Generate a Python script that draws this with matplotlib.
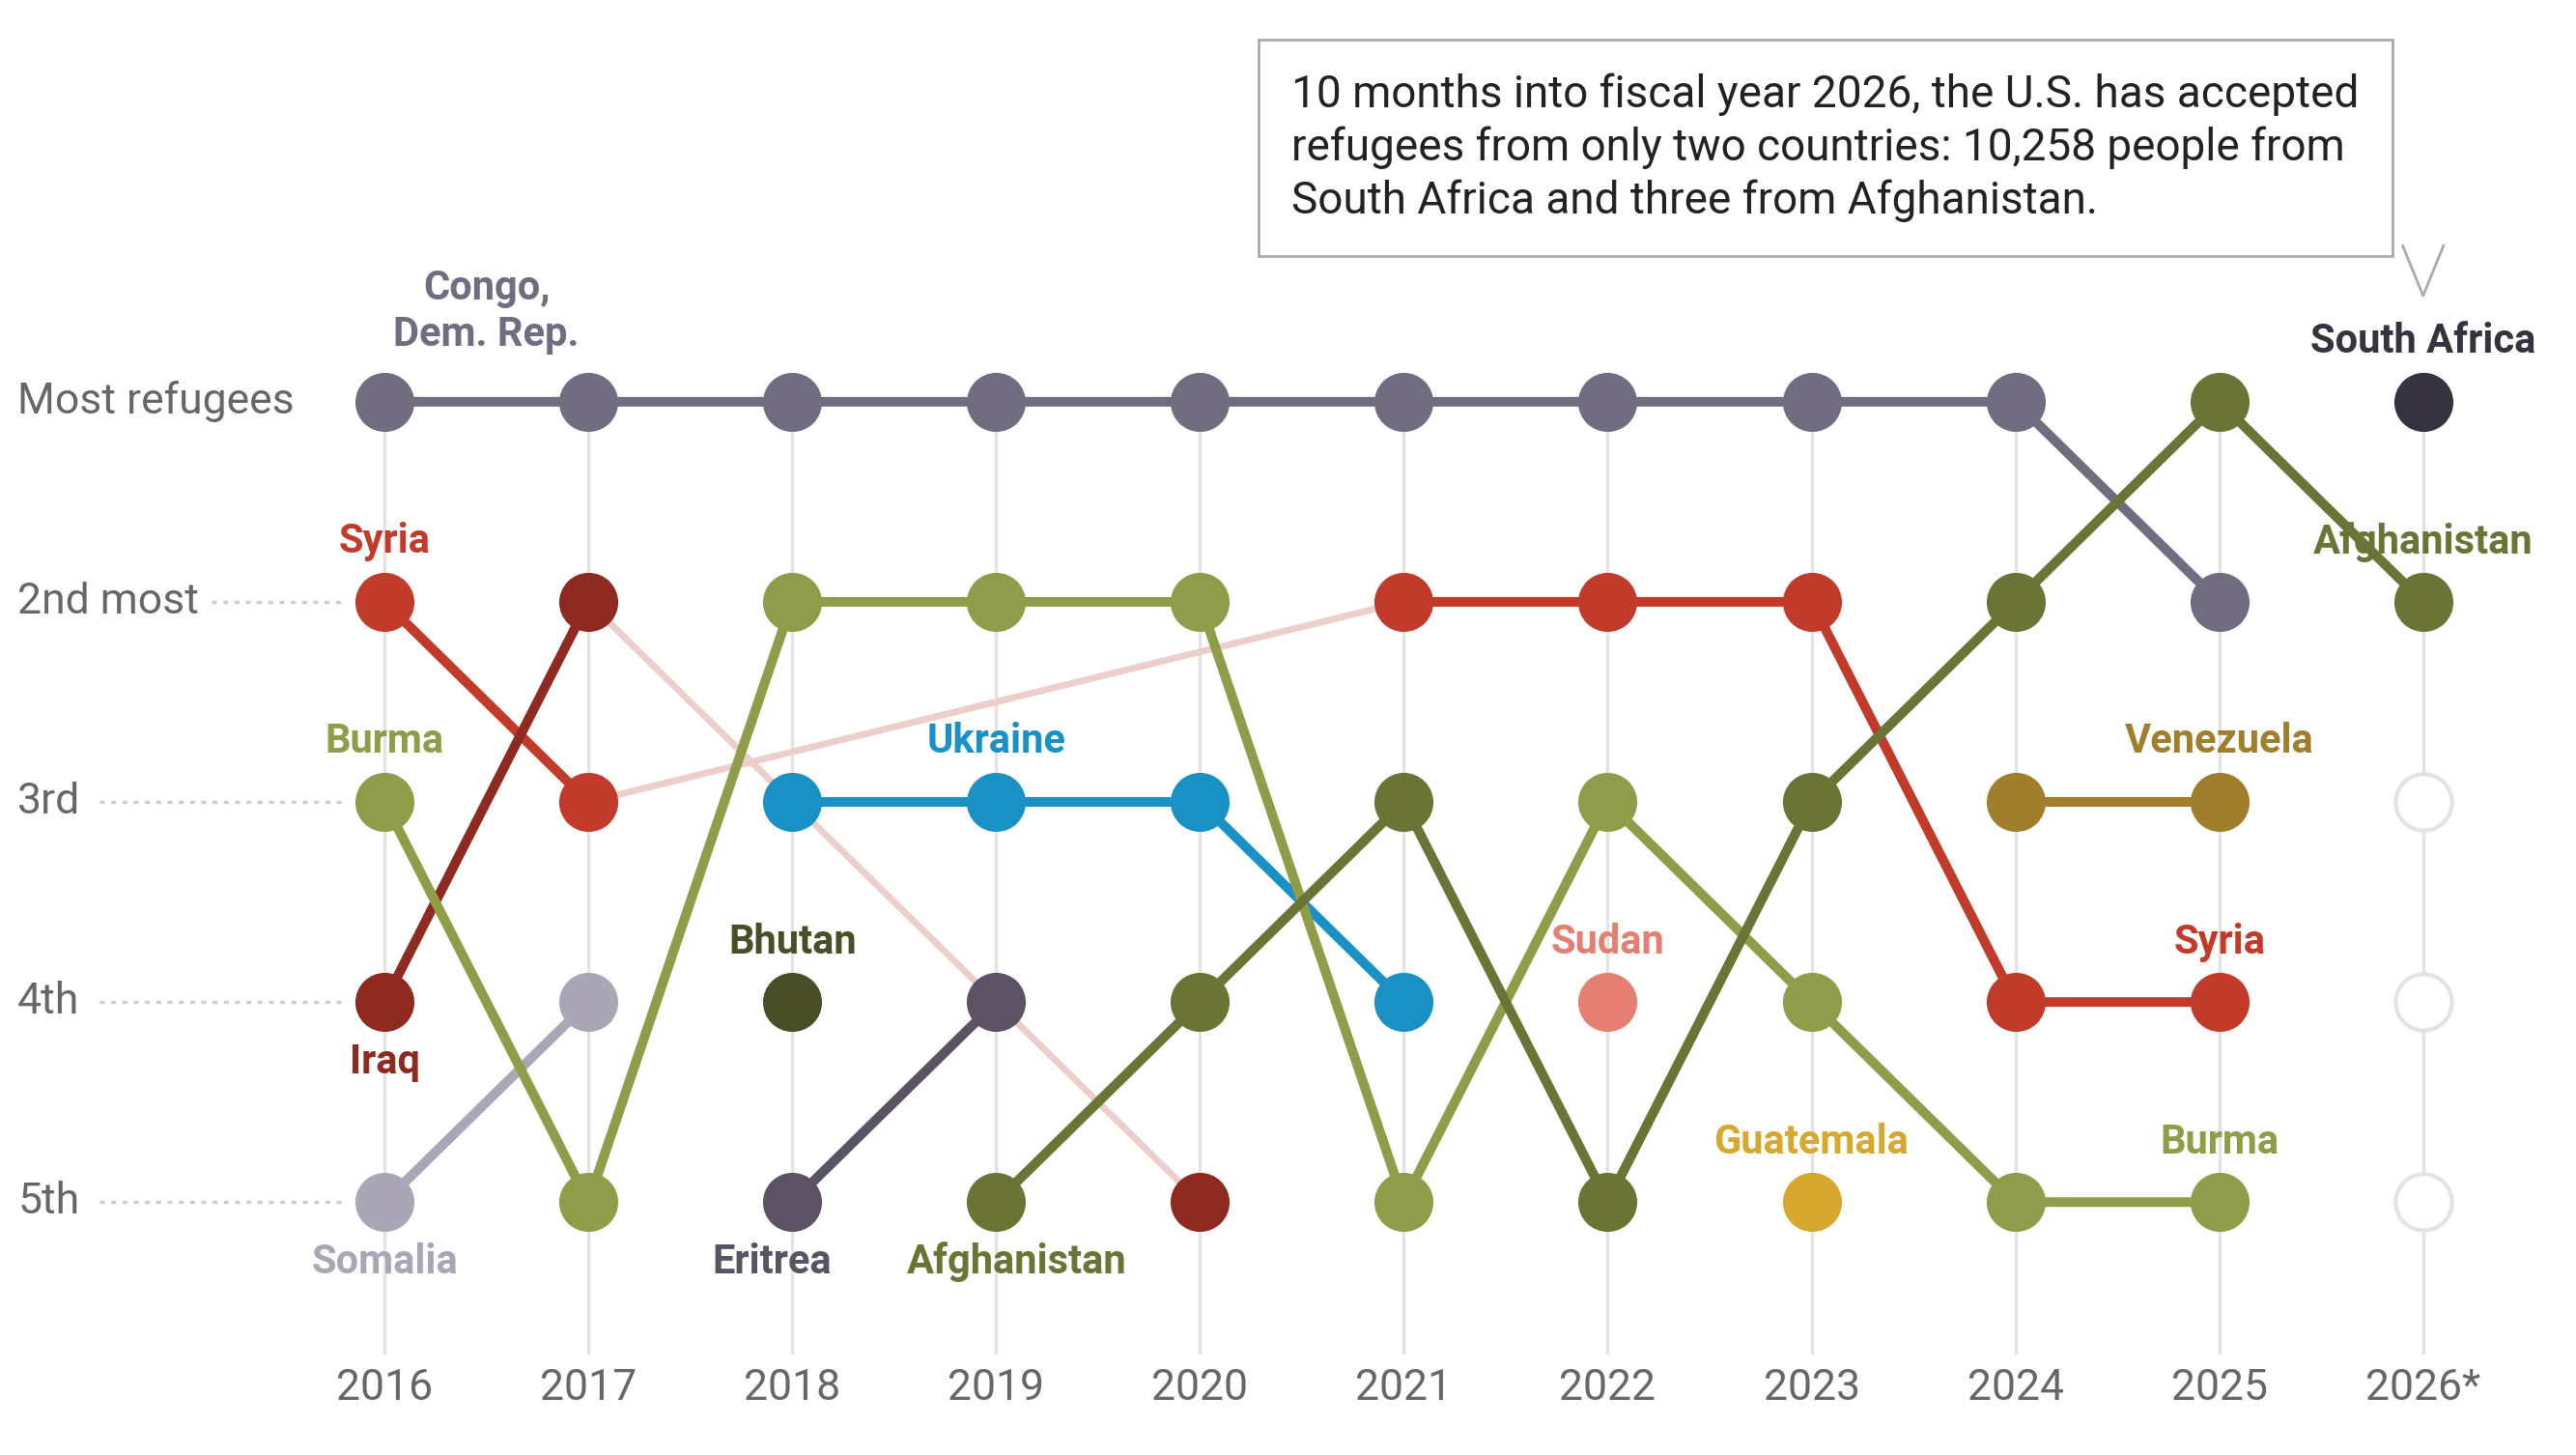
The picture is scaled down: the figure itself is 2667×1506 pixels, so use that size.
import matplotlib.pyplot as plt

years = ['2016', '2017', '2018', '2019', '2020', '2021', '2022', '2023', '2024', '2025', '2026*']
rank_labels = ['Most refugees', '2nd most', '3rd', '4th', '5th']

# ranks per country, None = not in top five
congo = [1, 1, 1, 1, 1, 1, 1, 1, 1, 2, None]
syria = [2, 3, None, None, None, 2, 2, 2, 4, 4, None]
iraq = [4, 2, None, None, 5, None, None, None, None, None, None]
burma = [3, 5, 2, 2, 2, 5, 3, 4, 5, 5, None]
somalia = [5, 4, None, None, None, None, None, None, None, None, None]
ukraine = [None, None, 3, 3, 3, 4, None, None, None, None, None]
bhutan = [None, None, 4, None, None, None, None, None, None, None, None]
eritrea = [None, None, 5, 4, None, None, None, None, None, None, None]
afghanistan = [None, None, None, 5, 4, 3, 5, 3, 2, 1, 2]
sudan = [None, None, None, None, None, None, 4, None, None, None, None]
guatemala = [None, None, None, None, None, None, None, 5, None, None, None]
venezuela = [None, None, None, None, None, None, None, None, 3, 3, None]
south_africa = [None, None, None, None, None, None, None, None, None, None, 1]
empty_ranks = [3, 4, 5]

# faint connectors where a country dropped out and came back
syria_gap = [(1, 3), (5, 2)]
iraq_gap = [(1, 2), (4, 5)]

plt.rcParams['font.family'] = ['Roboto', 'DejaVu Sans']

fig = plt.figure(figsize=(13.335, 7.53), dpi=200)
ax = fig.add_axes([0, 0, 1, 1])
ax.set_xlim(-1.886, 10.75)
ax.set_ylim(6.264, -1.008)
ax.axis('off')

# grid
for i, y in enumerate(years):
    ax.plot([i, i], [1, 5.75], color='#e3e3e3', lw=1.2, zorder=0)
    ax.text(i, 5.93, y, ha='center', va='center', fontsize=16, color='#666666')
for r, lab in enumerate(rank_labels, start=1):
    ax.text(-1.8, r, lab, ha='left', va='center', fontsize=16, color='#666666')
    if r > 1:
        ax.plot([-0.85 if r == 2 else -1.4, -0.2], [r, r], color='#cccccc', lw=1.2, ls=(0, (1.5, 2)), zorder=0)

for gap in (syria_gap, iraq_gap):
    ax.plot([gap[0][0], gap[1][0]], [gap[0][1], gap[1][1]], color='#eccfca', lw=2.5, zorder=1)

series = [
    (congo, '#736b80'), (syria, '#c23b2a'), (iraq, '#8e2a1f'), (somalia, '#aba6b5'),
    (ukraine, '#1a91c4'), (bhutan, '#4a4e26'), (eritrea, '#5b5364'),
    (burma, '#8f9c48'), (afghanistan, '#6b7335'), (sudan, '#e57f72'),
    (guatemala, '#d6a82e'), (venezuela, '#a07e2c'), (south_africa, '#36323f'),
]
for ranks, color in series:
    seg_x, seg_y = [], []
    for i, r in enumerate(ranks):
        if r is None:
            if seg_x:
                ax.plot(seg_x, seg_y, color=color, lw=3.6, marker='o', ms=21, zorder=2)
            seg_x, seg_y = [], []
        else:
            seg_x.append(i)
            seg_y.append(r)
    if seg_x:
        ax.plot(seg_x, seg_y, color=color, lw=3.6, marker='o', ms=21, zorder=2)

ax.plot([10] * len(empty_ranks), empty_ranks, ls='none', marker='o', ms=21,
        mfc='white', mec='#e3e3e3', mew=1.5, zorder=2)

labels = [
    (0.5, 0.55, 'Congo,\nDem. Rep.', '#736b80'), (0, 1.7, 'Syria', '#c23b2a'),
    (0, 2.7, 'Burma', '#8f9c48'), (0, 4.3, 'Iraq', '#8e2a1f'), (0, 5.3, 'Somalia', '#aba6b5'),
    (3, 2.7, 'Ukraine', '#1a91c4'), (2, 3.7, 'Bhutan', '#4a4e26'), (1.9, 5.3, 'Eritrea', '#5b5364'),
    (3.1, 5.3, 'Afghanistan', '#6b7335'), (6, 3.7, 'Sudan', '#e57f72'),
    (7, 4.7, 'Guatemala', '#d6a82e'), (9, 2.7, 'Venezuela', '#a07e2c'), (9, 3.7, 'Syria', '#c23b2a'),
    (9, 4.7, 'Burma', '#8f9c48'), (10, 0.7, 'South Africa', '#36323f'), (10, 1.7, 'Afghanistan', '#6b7335'),
]
for x, y, t, c in labels:
    ax.text(x, y, t, ha='center', va='center', fontsize=15, fontweight='bold', color=c,
            linespacing=1.2, zorder=3)

note = ('10 months into fiscal year 2026, the U.S. has accepted\n'
        'refugees from only two countries: 10,258 people from\n'
        'South Africa and three from Afghanistan.')
ax.text(4.45, -0.27, note, ha='left', va='center', fontsize=16.5, color='#222222', linespacing=1.3,
        bbox=dict(boxstyle='square,pad=0.75', fc='white', ec='#aaaaaa', lw=1))
ax.fill([9.9, 10, 10.1], [0.22, 0.47, 0.22], fc='white', ec='none', zorder=4)
ax.plot([9.9, 10, 10.1], [0.22, 0.47, 0.22], color='#aaaaaa', lw=1, zorder=4)

plt.savefig('out.png', dpi=200)
